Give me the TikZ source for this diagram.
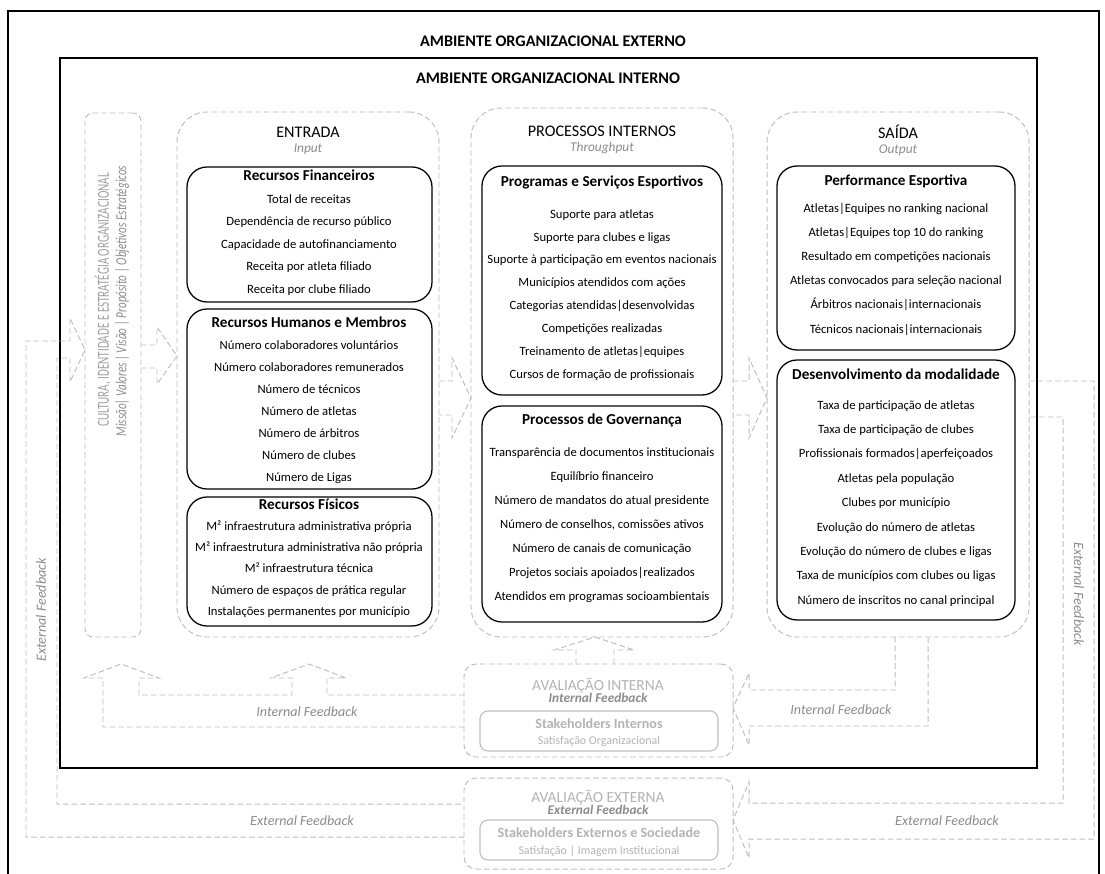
\documentclass[tikz,border=0pt]{standalone}
\usepackage{fontspec}
\usepackage{graphicx}
\setmainfont{Carlito}
\RequirePackage{xcolor}
\usetikzlibrary{calc}
\usetikzlibrary{fit}

\definecolor{dashgray}{HTML}{BFBFBF}
\definecolor{labelgray}{HTML}{8C8C8C}
\definecolor{culturegray}{HTML}{A0A0A0}
\definecolor{palegray}{HTML}{B4B4B4}

\tikzset{every node/.style={inner sep=0pt, outer sep=0pt, align=center},
         dashline/.style={draw=dashgray, line width=0.7pt,
           dash pattern=on 4pt off 2.2pt},
         stage/.style={dashline, rounded corners=0.75cm},  % Entrada, Processos, Saida
         group/.style={draw, line width=0.9pt,              % black boxes
           rounded corners=0.5cm},
         cultbox/.style={dashline, rounded corners=0.2cm},
         evalbox/.style={dashline, rounded corners=0.3cm},
         stakebox/.style={draw=dashgray, line width=0.8pt, rounded corners=0.2cm},
         flow/.style={dashline, line join=miter},          % block arrows
         bigtitle/.style={font=\fontsize{11.5}{14}\selectfont\bfseries},
         stagetitle/.style={font=\fontsize{11.5}{14}\selectfont},
         stagesub/.style={font=\fontsize{9.5}{11}\selectfont\itshape, text=labelgray},
         grouptitle/.style={font=\fontsize{10.8}{13}\selectfont\bfseries,
           text height=7.5pt, text depth=2pt},
         item/.style={font=\fontsize{9}{11}\selectfont,
           text height=6pt, text depth=1.5pt},
         fblabel/.style={font=\fontsize{10}{12}\selectfont\itshape, text=labelgray},
         evaltitle/.style={font=\fontsize{11}{13}\selectfont, text=palegray},
         evalsub/.style={font=\fontsize{9.5}{11}\selectfont\bfseries\itshape,
           text=labelgray},
         staketitle/.style={font=\fontsize{10}{12}\selectfont\bfseries, text=palegray},
         stakesub/.style={font=\fontsize{8.5}{10}\selectfont, text=palegray}}

\begin{document}
\begin{tikzpicture}[x=0.025cm, y=-0.025cm]
  \useasboundingbox (0,0) rectangle (1105,874);
  \fill[white] (0,0) rectangle (1105,874);

  % environments
  \draw[line width=0.9pt] (8,874) -- (8,11) -- (1099,11) -- (1099,874);
  \node[bigtitle] (extT) at (553,41) {AMBIENTE ORGANIZACIONAL EXTERNO};
  \node[draw, line width=1.7pt, fit={(60,58) (1037,768)}] (inner) {};
  \node[bigtitle] (intT) at (548,78) {AMBIENTE ORGANIZACIONAL INTERNO};

  % culture
  \node[cultbox, fit={(85,113) (141,637)}] (cult) {};
  \node[rotate=90, font=\fontsize{12}{14}\selectfont, text=culturegray] (cultT) at (103,300)
    {\scalebox{0.66}[1]{CULTURA, IDENTIDADE E ESTRATÉGIA ORGANIZACIONAL}};
  \node[rotate=90, font=\fontsize{11}{13}\selectfont\itshape, text=labelgray] (cultS) at (122,301)
    {\scalebox{0.72}[1]{Missão| Valores | Visão | Propósito | Objetivos Estratégicos}};

  % stages
  \node[stage, fit={(177,112) (439,637)}] (entr) {};
  \node[stagetitle] (entrT) at (308,132) {ENTRADA};
  \node[stagesub] (entrS) at (308,149) {Input};
  \node[stage, fit={(471,108) (733,637)}] (proc) {};
  \node[stagetitle] (procT) at (602,131) {PROCESSOS INTERNOS};
  \node[stagesub] (procS) at (602,148) {Throughput};
  \node[stage, fit={(767,112) (1029,637)}] (said) {};
  \node[stagetitle] (saidT) at (898,132) {SAÍDA};
  \node[stagesub] (saidS) at (898,150) {Output};

  % input groups
  \node[group, fit={(187,167) (432,302)}] (fin) {};
  \node[grouptitle] at (309,177) {Recursos Financeiros};
  \foreach \t [count=\i from 0] in {Total de receitas, Dependência de recurso público,
      Capacidade de autofinanciamento, Receita por atleta filiado, Receita por clube filiado}
    \node[item] (fin\i) at (309,200+22.5*\i) {\t};

  \node[group, fit={(187,309) (432,489)}] (hum) {};
  \node[grouptitle] at (309,324) {Recursos Humanos e Membros};
  \foreach \t [count=\i from 0] in {Número colaboradores voluntários, Número colaboradores remunerados,
      Número de técnicos, Número de atletas, Número de árbitros, Número de clubes, Número de Ligas}
    \node[item] (hum\i) at (309,346+22*\i) {\t};

  \node[group, fit={(187,497) (432,626)}] (fis) {};
  \node[grouptitle] at (309,506) {Recursos Físicos};
  \foreach \t [count=\i from 0] in {M² infraestrutura administrativa própria,
      M² infraestrutura administrativa não própria, M² infraestrutura técnica,
      Número de espaços de prática regular, Instalações permanentes por município}
    \node[item] (fis\i) at (309,527+21.3*\i) {\t};

  % throughput groups
  \node[group, fit={(482,166) (722,395)}] (prog) {};
  \node[grouptitle] at (602,183) {Programas e Serviços Esportivos};
  \foreach \t [count=\i from 0] in {Suporte para atletas, Suporte para clubes e ligas,
      Suporte à participação em eventos nacionais, Municípios atendidos com ações,
      Categorias atendidas|desenvolvidas, Competições realizadas,
      Treinamento de atletas|equipes, Cursos de formação de profissionais}
    \node[item] (prog\i) at (602,215+22.9*\i) {\t};

  \node[group, fit={(482,406) (722,622)}] (gov) {};
  \node[grouptitle] at (602,421) {Processos de Governança};
  \foreach \t [count=\i from 0] in {Transparência de documentos institucionais, Equilíbrio financeiro,
      Número de mandatos do atual presidente, {Número de conselhos, comissões ativos},
      Número de canais de comunicação, Projetos sociais apoiados|realizados,
      Atendidos em programas socioambientais}
    \node[item] (gov\i) at (602,453+24.1*\i) {\t};

  % output groups
  \node[group, fit={(777,166) (1015,350)}] (perf) {};
  \node[grouptitle] at (896,182) {Performance Esportiva};
  \foreach \t [count=\i from 0] in {Atletas|Equipes no ranking nacional, Atletas|Equipes top 10 do ranking,
      Resultado em competições nacionais, Atletas convocados para seleção nacional,
      Árbitros nacionais|internacionais, Técnicos nacionais|internacionais}
    \node[item] (perf\i) at (896,209+24.2*\i) {\t};

  \node[group, fit={(777,360) (1015,620)}] (dev) {};
  \node[grouptitle] at (896,376) {Desenvolvimento da modalidade};
  \foreach \t [count=\i from 0] in {Taxa de participação de atletas, Taxa de participação de clubes,
      Profissionais formados|aperfeiçoados, Atletas pela população, Clubes por município,
      Evolução do número de atletas, Evolução do número de clubes e ligas,
      Taxa de municípios com clubes ou ligas, Número de inscritos no canal principal}
    \node[item] (dev\i) at (896,406+24.4*\i) {\t};

  % evaluation
  \node[evalbox, fit={(464,664) (733,757)}] (aint) {};
  \node[evaltitle] (aintT) at (598,686) {AVALIAÇÃO INTERNA};
  \node[evalsub] (aintS) at (598,698) {Internal Feedback};
  \node[stakebox, fit={(480,711) (718,751)}] (sint) {};
  \node[staketitle] at (599,724) {Stakeholders Internos};
  \node[stakesub] at (599,741) {Satisfação Organizacional};

  \node[evalbox, fit={(464,778) (733,869)}] (aext) {};
  \node[evaltitle] (aextT) at (598,798) {AVALIAÇÃO EXTERNA};
  \node[evalsub] (aextS) at (598,810) {External Feedback};
  \node[stakebox, fit={(480,820) (718,860)}] (sext) {};
  \node[staketitle] at (599,833) {Stakeholders Externos e Sociedade};
  \node[stakesub] at (599,851) {Satisfação | Imagem Institucional};

  % main flow
  \draw[flow] (cult.east |- 0,345) -- (157,345) -- (157,327) -- (entr.west |- 0,356)
    -- (157,384) -- (157,368) -- (cult.east |- 0,368);
  \draw[flow] (entr.east |- 0,381) -- (452,381) -- (452,358) -- (proc.west |- 0,398)
    -- (452,438) -- (452,415) -- (entr.east |- 0,415);
  \draw[flow] (proc.east |- 0,381) -- (749,381) -- (749,358) -- (said.west |- 0,398)
    -- (749,438) -- (749,415) -- (proc.east |- 0,415);

  % internal feedback
  \draw[flow] (said.south -| 895,0) -- (895,690) -- (749,690) -- (749,673) -- (aint.east |- 0,708)
    -- (749,745) -- (749,726) -- (928,726) -- (said.south -| 928,0);
  \draw[flow] (aint.north -| 576,0) -- (576,650) -- (554,650) -- (proc.south -| 595,0)
    -- (634,650) -- (614,650) -- (aint.north -| 614,0);
  \draw[flow] (aint.west |- 0,727) -- (103,727) -- (103,678) -- (84,678) -- (121,664)
    -- (159,678) -- (139,678) -- (139,695) -- (292,695) -- (292,678) -- (271,678)
    -- (309,664) -- (346,678) -- (327,678) -- (327,695) -- (aint.west |- 0,695);
  \node[fblabel] at (307,712) {Internal Feedback};
  \node[fblabel] at (841,710) {Internal Feedback};

  % external feedback
  \draw[flow] (said.east |- 0,381) -- (1094,381) -- (1094,839) -- (749,839) -- (749,858)
    -- (aext.east |- 0,820) -- (749,782) -- (749,803) -- (1063,803) -- (1063,417)
    -- (said.east |- 0,417);
  \draw[flow] (aext.west |- 0,837) -- (26,837) -- (26,341) -- (70,341) -- (70,318)
    -- (cult.west |- 0,350) -- (70,382) -- (70,358) -- (57,358) -- (57,804)
    -- (aext.west |- 0,804);
  \node[fblabel] at (302,821) {External Feedback};
  \node[fblabel] at (947,821) {External Feedback};
  \node[fblabel, rotate=90] at (41,610) {External Feedback};
  \node[fblabel, rotate=-90] at (1079,594) {External Feedback};
\end{tikzpicture}
\end{document}
